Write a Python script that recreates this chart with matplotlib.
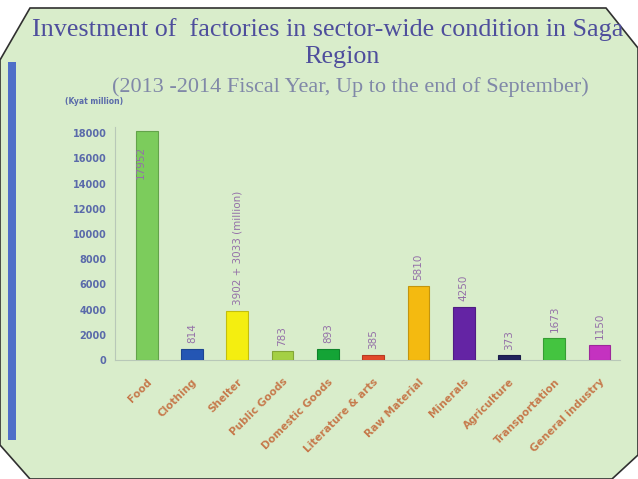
import matplotlib
matplotlib.use("Agg")
import numpy as np
from matplotlib import pyplot as plt
from matplotlib.patches import Polygon

# data (Kyat million)
sectors = ["Food", "Clothing", "Shelter", "Public Goods", "Domestic Goods",
           "Literature & arts", "Raw Material", "Minerals", "Agriculture",
           "Transportation", "General industry"]
values = [18200, 900, 3900, 700, 900, 400, 5900, 4200, 380, 1750, 1190]
value_labels = ["17952", "814", "3902 + 3033 (million)", "783", "893", "385",
                "5810", "4250", "373", "1673", "1150"]
bar_colors = ["#7ccc5c", "#2456b4", "#f4ee10", "#a4d044", "#14a436", "#e2492a",
              "#f4ba10", "#6424a4", "#22245c", "#44c440", "#c432c0"]
yticks = np.arange(0, 18001, 2000)

bg = "#d9edcb"
fig = plt.figure(figsize=(6.38, 4.79), dpi=100)
fig.patch.set_facecolor("white")

W, H = 638.0, 479.0
frame = [(0, 60), (30, 8), (606, 8), (638, 48), (638, 455), (612, 479),
         (30, 479), (0, 445)]
frame = [(x / W, 1 - y / H) for x, y in frame]
fig.patches.append(Polygon(frame, closed=True, transform=fig.transFigure,
                           facecolor=bg, edgecolor="#303030", lw=1.2, zorder=-2))
# blue strip on the left edge
fig.patches.append(Polygon([(8 / W, 1 - 62 / H), (16 / W, 1 - 62 / H),
                            (16 / W, 1 - 440 / H), (8 / W, 1 - 440 / H)],
                           closed=True, transform=fig.transFigure,
                           facecolor="#4f6fc8", edgecolor="none", zorder=-1))

ax = fig.add_axes([115 / W, 119 / H, 505 / W, 233 / H])
ax.set_facecolor("none")

x = np.arange(len(sectors))
darker = [tuple(0.8 * np.array(matplotlib.colors.to_rgb(c))) for c in bar_colors]
bars = ax.bar(x, values, width=0.48, color=bar_colors, edgecolor=darker,
              linewidth=0.8, zorder=3)

for i, (v, lab) in enumerate(zip(values, value_labels)):
    if i == 0:
        ax.text(i - 0.12, v - 1200, lab, rotation=90, ha="center", va="top",
                fontsize=7.5, color="#9470a8", zorder=4)
    else:
        ax.text(i, v + 450, lab, rotation=90, ha="center", va="bottom",
                fontsize=7.5, color="#9470a8", zorder=4)

ax.set_xlim(-0.7, 10.45)
ax.set_ylim(0, 18500)
ax.set_yticks(yticks)
ax.set_yticklabels([str(t) for t in yticks], fontsize=7, color="#5a6aaa",
                   fontweight="bold")
ax.set_xticks(x)
ax.set_xticklabels(sectors, rotation=45, ha="right", va="top",
                   rotation_mode="anchor", fontsize=7.6, color="#c67a4c",
                   fontweight="bold")
ax.tick_params(axis="y", length=0, pad=6)
ax.tick_params(axis="x", length=0, pad=12)
for s in ["top", "right"]:
    ax.spines[s].set_visible(False)
ax.spines["left"].set_color("#b8c8b8")
ax.spines["bottom"].set_color("#b8c8b8")

title_font = ["Liberation Serif", "DejaVu Serif"]
fig.text(32 / W, 1 - 30 / H,
         "Investment of  factories in sector-wide condition in Saga",
         ha="left", va="center", fontsize=18.8, color="#4e4e9c",
         family=title_font)
fig.text(342 / W, 1 - 57 / H, "Region", ha="center", va="center",
         fontsize=18.8, color="#4e4e9c", family=title_font)
fig.text(350 / W, 1 - 87 / H,
         "(2013 -2014 Fiscal Year, Up to the end of September)",
         ha="center", va="center", fontsize=16, color="#8088a8",
         family=title_font)
fig.text(65 / W, 1 - 101 / H, "(Kyat million)", ha="left", va="center",
         fontsize=5.5, color="#5a6aaa", fontweight="bold")

fig.savefig("out.png", dpi=100, facecolor="white")
